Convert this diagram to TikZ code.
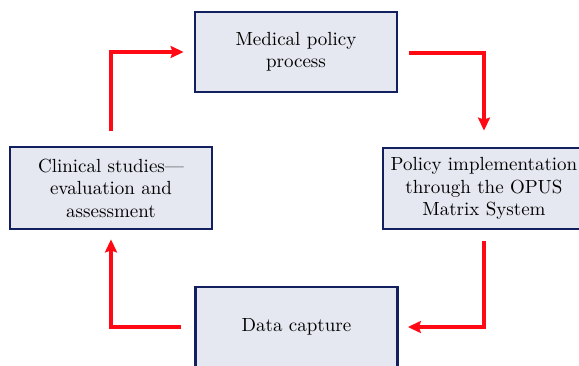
\documentclass[tikz,border=0pt]{standalone}
\usepackage{fontspec}
\setmainfont{lmroman10-regular.otf}
\usepackage{xcolor}
\usepackage{tikz}
\usetikzlibrary{arrows.meta}
\definecolor{knavy}{HTML}{122060}
\definecolor{kfill}{HTML}{E5E8F0}
\definecolor{kred}{HTML}{FF0A14}

\begin{document}
\begin{tikzpicture}[x=1pt, y=1pt, font=\fontsize{19}{22.5}\selectfont,
  box/.style={draw=knavy, line width=2.8pt, fill=kfill, align=center, inner sep=2pt,
    minimum width=202pt, minimum height=80pt},
  arr/.style={-{Stealth[length=13pt, width=12pt, inset=2pt]}, kred, line width=4pt}]
\clip (0,0) rectangle (579,365);
\node[box] (policy) at (296,313) {Medical policy\\process};
\node[box, minimum height=82pt] (clinical) at (111,177) {Clinical studies---\\evaluation and\\assessment};
\node[box, minimum height=81pt] (opus) at (484,176.5) {Policy implementation\\through the OPUS\\Matrix System};
\node[box] (data) at (296.5,38) {Data capture};
\draw[arr, shorten <=15pt, shorten >=10pt] (clinical.north) |- (policy.west);
\draw[arr, shorten <=11pt, shorten >=16pt] ([yshift=-1pt]policy.east) -| (opus.north);
\draw[arr, shorten <=11pt, shorten >=9pt] (opus.south) |- (data.east);
\draw[arr, shorten <=13pt, shorten >=9pt] (data.west) -| (clinical.south);
\end{tikzpicture}
\end{document}
